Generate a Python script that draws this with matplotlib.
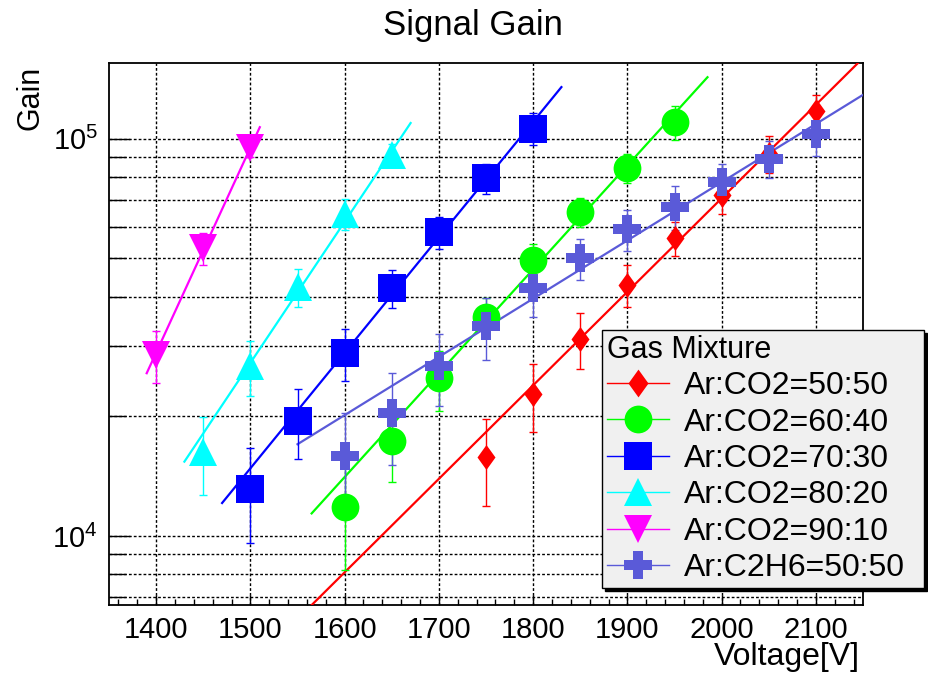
import numpy as np
import matplotlib
matplotlib.use("Agg")
import matplotlib.pyplot as plt
from matplotlib.lines import Line2D
from matplotlib.ticker import MultipleLocator, LogLocator, NullFormatter

plt.rcParams['font.family'] = ['Liberation Sans', 'DejaVu Sans']
plt.rcParams['mathtext.fontset'] = 'custom'
plt.rcParams['mathtext.rm'] = 'Liberation Sans'
plt.rcParams['mathtext.it'] = 'Liberation Sans:italic'

# gain vs voltage
volt_50 = [1750, 1800, 1850, 1900, 1950, 2000, 2050, 2100]
gain_50 = [15800, 22700, 31300, 42900, 56200, 72000, 91700, 117100]
err_50 = [3900, 4400, 5000, 5300, 5600, 7300, 10000, 12000]

volt_60 = [1600, 1650, 1700, 1750, 1800, 1850, 1900, 1950]
gain_60 = [11800, 17300, 24900, 35600, 49400, 65300, 84500, 110000]
err_60 = [3600, 3600, 4300, 4100, 4800, 5500, 7200, 11000]

volt_70 = [1500, 1550, 1600, 1650, 1700, 1750, 1800]
gain_70 = [13100, 19500, 28800, 42000, 58200, 79600, 106000]
err_70 = [3500, 3900, 4300, 4600, 5400, 6900, 9700]

volt_80 = [1450, 1500, 1550, 1600, 1650]
gain_80 = [16300, 26700, 42300, 64700, 90700]
err_80 = [3600, 4200, 4600, 5700, 6000]

volt_90 = [1400, 1450, 1500]
gain_90 = [28500, 53000, 94700]
err_90 = [4200, 5000, 5000]

volt_c2h6 = [1600, 1650, 1700, 1750, 1800, 1850, 1900, 1950, 2000, 2050, 2100]
gain_c2h6 = [15900, 20400, 26700, 33700, 42000, 50000, 59200, 67300, 77800, 89100, 102500]
err_c2h6 = [4500, 5300, 5500, 6000, 6500, 6000, 7000, 8500, 8700, 9500, 12000]

labels = ['Ar:CO2=50:50', 'Ar:CO2=60:40', 'Ar:CO2=70:30',
          'Ar:CO2=80:20', 'Ar:CO2=90:10', 'Ar:C2H6=50:50']
colors = ['#ff0000', '#00ff00', '#0000ff', '#00ffff', '#ff00ff', '#5a5ad8']
# ROOT-like fat diamond
diamond = [(0, 1), (0.72, 0), (0, -1), (-0.72, 0), (0, 1)]
markers = [diamond, 'o', 's', '^', 'v', 'P']
sizes = [18, 20, 20, 20, 20, 20]
fit_ranges = [(1550, 2150), (1565, 1985), (1470, 1830),
              (1430, 1670), (1390, 1510), (1550, 2150)]

series = [(volt_50, gain_50, err_50), (volt_60, gain_60, err_60),
          (volt_70, gain_70, err_70), (volt_80, gain_80, err_80),
          (volt_90, gain_90, err_90), (volt_c2h6, gain_c2h6, err_c2h6)]

fig = plt.figure(figsize=(9.29, 6.74), dpi=100)
ax = fig.add_axes([109 / 929, 1 - 605 / 674, (863 - 109) / 929, (605 - 63) / 674])

handles = []
for (v, g, e), lab, col, mk, ms, (lo, hi) in zip(series, labels, colors, markers, sizes, fit_ranges):
    v = np.array(v, float)
    g = np.array(g, float)
    e = np.array(e, float)
    # expo fit like ROOT, weighted by errors
    p = np.polyfit(v, np.log(g), 1, w=g / e)
    xf = np.linspace(lo, hi, 200)
    ax.plot(xf, np.exp(np.polyval(p, xf)), color=col, lw=1.6, zorder=3)
    ax.errorbar(v, g, yerr=e, fmt='none', ecolor=col,
                elinewidth=1, capsize=3, capthick=1, zorder=4)
    ax.plot(v, g, linestyle='none', marker=mk, color=col, ms=ms, mew=0, zorder=5)
    handles.append(Line2D([], [], color=col, lw=1, marker=mk,
                          ms=ms * (20 / 18 if mk is diamond else 1), mew=0))

ax.set_yscale('log')
ax.set_xlim(1350, 2150)
ax.set_ylim(6700, 1.55e5)

ax.xaxis.set_major_locator(MultipleLocator(100))
ax.xaxis.set_minor_locator(MultipleLocator(20))
ax.yaxis.set_major_locator(LogLocator(base=10))
ax.yaxis.set_minor_locator(LogLocator(base=10, subs=np.arange(2, 10)))
ax.yaxis.set_minor_formatter(NullFormatter())

ax.grid(True, which='major', axis='x', color='black', lw=1, linestyle=(0, (2, 1.5)))
ax.grid(True, which='both', axis='y', color='black', lw=1, linestyle=(0, (2, 1.5)))
ax.set_axisbelow(True)

ax.tick_params(axis='both', which='both', direction='in', labelsize=21, width=1)
ax.tick_params(axis='x', which='major', length=7, pad=8)
ax.tick_params(axis='x', which='minor', length=4)
ax.tick_params(axis='y', which='major', length=15, pad=8)
ax.tick_params(axis='y', which='minor', length=12)
for s in ax.spines.values():
    s.set_linewidth(1.3)

fig.text(473 / 929, 1 - 25 / 674, 'Signal Gain', ha='center', va='center', fontsize=25)
fig.text(31 / 929, 1 - 66 / 674, 'Gain', rotation=90, ha='center', va='top', fontsize=22)
fig.text(860 / 929, 1 - 642 / 674, 'Voltage[V]', ha='right', va='top', fontsize=23)

leg = fig.legend(handles, labels, title='Gas Mixture', loc='upper left',
                 bbox_to_anchor=(602 / 929, 1 - 330 / 674, 322 / 929, 0.0),
                 mode='expand', fontsize=23,
                 title_fontsize=22, alignment='left', frameon=True, fancybox=False,
                 facecolor='#f0f0f0', edgecolor='black', framealpha=1,
                 shadow={'color': 'black', 'alpha': 1}, handlelength=1.95,
                 handletextpad=0.45, labelspacing=0.2, borderpad=0.15,
                 borderaxespad=0)
leg.get_frame().set_linewidth(1)

fig.savefig('out.png', dpi=100)
